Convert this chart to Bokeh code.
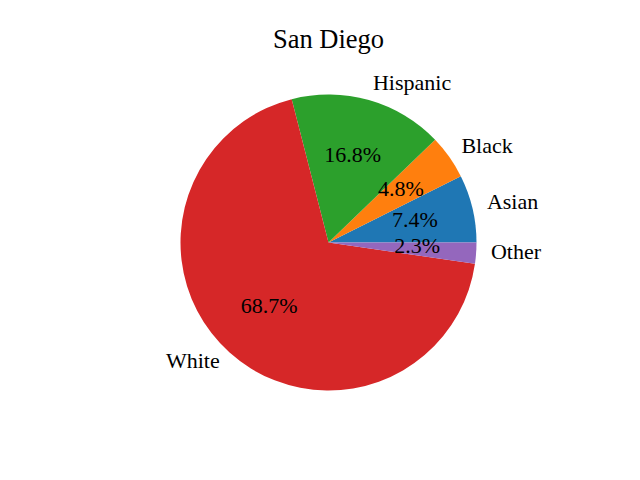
import math
from bokeh.plotting import figure
from bokeh.models import Range1d, ColumnDataSource
from bokeh.core.properties import value
from bokeh.embed import file_html
from bokeh.resources import INLINE

categories = ["Asian", "Black", "Hispanic", "White", "Other"]
shares = [7.4, 4.8, 16.8, 68.7, 2.3]
colors = ["#1f77b4", "#ff7f0e", "#2ca02c", "#d62728", "#9467bd"]
title_text = "San Diego"

R = 148.0
total = sum(shares)
starts, ends, mids = [], [], []
acc = 0.0
for v in shares:
    a0 = acc / total * 2 * math.pi
    acc += v
    a1 = acc / total * 2 * math.pi
    starts.append(a0)
    ends.append(a1)
    mids.append((a0 + a1) / 2)

p = figure(width=624, height=464, output_backend="svg", toolbar_location=None,
           x_range=Range1d(-328, 296), y_range=Range1d(-222, 242),
           min_border=0, outline_line_color=None)
p.axis.visible = False
p.grid.visible = False
p.background_fill_color = "white"
p.border_fill_color = "white"

src = ColumnDataSource(dict(start=starts, end=ends, color=colors))
p.wedge(x=0, y=0, radius=R, start_angle="start", end_angle="end",
        fill_color="color", line_color=None, source=src)

font = value("Liberation Serif")
dy = 3.0
lx, ly, lalign = [], [], []
for m in mids:
    x = 1.1 * R * math.cos(m)
    y = 1.1 * R * math.sin(m) + dy
    lx.append(x)
    ly.append(y)
    lalign.append("left" if x > 0 else "right")
lab = ColumnDataSource(dict(x=lx, y=ly, t=categories, a=lalign))
p.text(x="x", y="y", text="t", text_align="a", text_baseline="middle",
       text_font=font, text_font_size="22px", text_color="black", source=lab)

px = [0.6 * R * math.cos(m) for m in mids]
py = [0.6 * R * math.sin(m) + dy for m in mids]
pct = ["%.1f%%" % (v / total * 100) for v in shares]
ps = ColumnDataSource(dict(x=px, y=py, t=pct))
p.text(x="x", y="y", text="t", text_align="center", text_baseline="middle",
       text_font=font, text_font_size="22px", text_color="black", source=ps)

p.text(x=[0], y=[203.5], text=[title_text], text_align="center",
       text_baseline="alphabetic", text_font=font, text_font_size="26.5px",
       text_color="black")

open("out.html", "w").write(file_html(p, INLINE))
